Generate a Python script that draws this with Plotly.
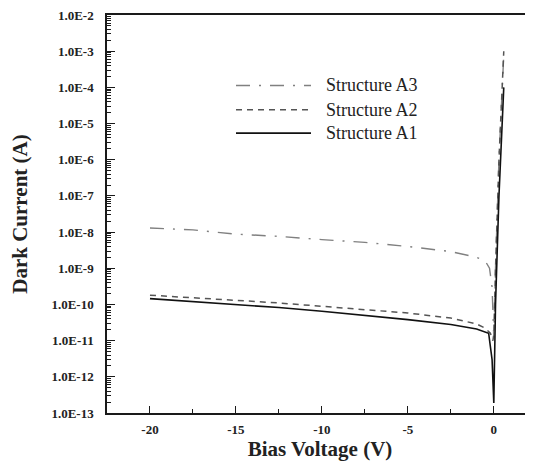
import plotly.graph_objects as go

# Data
v_a3 = [-20, -17.5, -15, -12.5, -10, -7.5, -5, -2.5, -1, -0.5, -0.25, -0.1, 0.0, 0.1, 0.3, 0.58]
i_a3 = [1.3e-8, 1.15e-8, 8.8e-9, 7.6e-9, 6.2e-9, 5.2e-9, 4.0e-9, 2.9e-9, 2.0e-9, 1.6e-9, 1.0e-9, 3.0e-10, 1.2e-11, 1e-9, 1e-6, 8e-4]

v_a2 = [-20, -17.5, -15, -12.5, -10, -7.5, -5, -2.5, -1, -0.5, -0.2, -0.05, 0.0, 0.1, 0.3, 0.58]
i_a2 = [1.8e-10, 1.5e-10, 1.3e-10, 1.1e-10, 9.0e-11, 7.2e-11, 5.8e-11, 4.2e-11, 2.9e-11, 2.2e-11, 1.6e-11, 1.0e-11, 1.5e-11, 1e-9, 1e-6, 1.0e-3]

v_a1 = [-20, -17.5, -15, -12.5, -10, -7.5, -5, -2.5, -1, -0.3, -0.1, 0.0, 0.1, 0.3, 0.58]
i_a1 = [1.45e-10, 1.2e-10, 1.0e-10, 8.2e-11, 6.5e-11, 5.0e-11, 3.8e-11, 2.8e-11, 2.1e-11, 1.6e-11, 3e-12, 1.9e-13, 1e-10, 1e-7, 1.0e-4]

series_names = ["Structure A3", "Structure A2", "Structure A1"]

y_tickvals = [10.0 ** e for e in range(-13, -1)]
y_ticktext = ["1.0E%d" % e for e in range(-13, -1)]
y_minor = [m * 10.0 ** e for e in range(-13, -2) for m in range(2, 10)]
x_tickvals = [-20, -15, -10, -5, 0]
x_minor = [-17.5, -12.5, -7.5, -2.5, 2.5]

serif = "Liberation Serif"
ink = "#1a1a1a"

styles = [
    dict(color="#808080", width=1.4, dash="14px,9px,2px,9px"),
    dict(color="#555555", width=1.5, dash="6px,5px"),
    dict(color="#111111", width=1.6),
]

fig = go.Figure()
for name, xs, ys, st in zip(series_names, [v_a3, v_a2, v_a1], [i_a3, i_a2, i_a1], styles):
    fig.add_trace(go.Scatter(x=xs, y=ys, mode="lines", name=name, line=st, showlegend=False))

# Figure sits at (8, 8) in the page (body margin); plot area spans page x 107..533, y 12..413
W, H = 525, 460
L, T, B = 99, 4, 55
pw, ph = W - L, H - T - B

def px(xp):
    return (xp - 8 - L) / pw

def py(yp):
    return 1 - (yp - 8 - T) / ph

# manual legend (long line samples as in the reference)
shapes = []
annotations = []
legend_rows = [83, 107.5, 131]
for name, st, yr in zip(series_names, styles, legend_rows):
    yy = py(yr)
    shapes.append(dict(type="line", xref="paper", yref="paper", x0=px(236), x1=px(311), y0=yy, y1=yy,
                       line=dict(color=st["color"], width=st["width"], dash=st.get("dash", "solid"))))
    annotations.append(dict(xref="paper", yref="paper", x=px(324), y=yy, xanchor="left", yanchor="middle",
                            text=name, showarrow=False, font=dict(family=serif, size=18, color="#222")))

fig.update_layout(
    width=W, height=H,
    margin=dict(l=L, r=0, t=T, b=B),
    plot_bgcolor="white", paper_bgcolor="white",
    showlegend=False,
    shapes=shapes, annotations=annotations,
    xaxis=dict(
        range=[-22.5, 2.28], showgrid=False, zeroline=False,
        showline=True, linecolor=ink, linewidth=1.5, mirror=True,
        tickmode="array", tickvals=x_tickvals, ticktext=[str(v) for v in x_tickvals],
        ticks="inside", ticklen=7, tickwidth=1.2, tickcolor=ink,
        minor=dict(tickmode="array", tickvals=x_minor, ticks="inside", ticklen=4, tickwidth=1.2, tickcolor=ink, showgrid=False),
        tickfont=dict(family=serif, size=13, color="#222", weight="bold"),
        ticklabelstandoff=4,
        title=dict(text="<b>Bias Voltage (V)</b>", font=dict(family=serif, size=21, color="#222"), standoff=5),
    ),
    yaxis=dict(
        type="log", range=[-13, -2], showgrid=False, zeroline=False,
        showline=True, linecolor=ink, linewidth=1.5,
        tickmode="array", tickvals=y_tickvals, ticktext=y_ticktext,
        ticks="inside", ticklen=8, tickwidth=1.2, tickcolor=ink,
        minor=dict(tickmode="array", tickvals=y_minor, ticks="inside", ticklen=4, tickwidth=1, tickcolor=ink, showgrid=False),
        tickfont=dict(family=serif, size=13, color="#222", weight="bold"),
        ticklabelstandoff=9, ticklabeloverflow="allow",
        title=dict(text="<b>Dark Current (A)</b>", font=dict(family=serif, size=21, color="#222"), standoff=22),
    ),
)

fig.write_html("out.html")
